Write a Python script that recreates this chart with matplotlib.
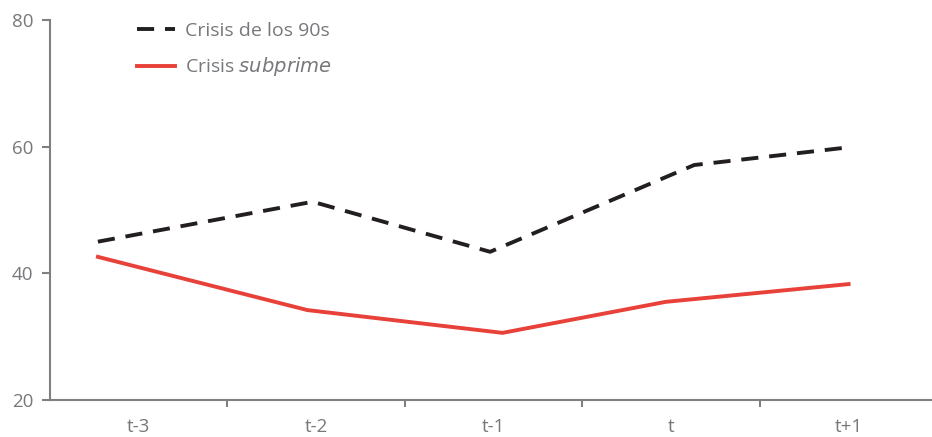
import matplotlib
matplotlib.use("Agg")
from matplotlib import pyplot as plt
from matplotlib.lines import Line2D

categories = ["t-3", "t-2", "t-1", "t", "t+1"]

# x positions (in category units)
x_90s = [-0.23, 0.98, 1.98, 3.13, 3.97]
crisis_90s = [45.0, 51.3, 43.4, 57.1, 59.8]

x_subprime = [-0.23, 0.95, 2.05, 2.97, 4.0]
crisis_subprime = [42.6, 34.2, 30.6, 35.5, 38.3]

black = "#231f20"
red = "#e8413a"
grey = "#808080"
text_grey = "#77787b"

plt.rcParams['font.family'] = ['Open Sans', 'DejaVu Sans']

fig = plt.figure(figsize=(9.32, 4.37), dpi=100)
ax = fig.add_axes([50 / 932, 1 - 400 / 437, 1 - 50 / 932, 380 / 437])

ax.plot(x_90s, crisis_90s, color=black, lw=2.8, dashes=(4.4, 2.8))
ax.plot(x_subprime, crisis_subprime, color=red, lw=2.8, solid_joinstyle="miter")

ax.set_ylim(20, 80)
ax.set_yticks([20, 40, 60, 80])
ax.set_xlim(-0.5, 4.47)
ax.set_xticks([0.5, 1.5, 2.5, 3.5])
ax.set_xticklabels([])
ax.set_xticks(range(len(categories)), minor=True)
ax.set_xticklabels(categories, minor=True)
ax.tick_params(axis="x", which="major", length=5, width=1.5, color=grey, direction="out")
ax.tick_params(axis="x", which="minor", length=0, pad=13, labelsize=13.5, labelcolor=text_grey)
ax.tick_params(axis="y", length=6, width=1.5, color=grey, labelsize=13.5, labelcolor=text_grey, pad=6)

for side in ["top", "right"]:
    ax.spines[side].set_visible(False)
for side in ["left", "bottom"]:
    ax.spines[side].set_color(grey)
    ax.spines[side].set_linewidth(1.5)

handles = [
    Line2D([], [], color=black, lw=2.8, dashes=(4.4, 2.8)),
    Line2D([], [], color=red, lw=2.8),
]
labels = ["Crisis de los 90s", "Crisis $\\it{subprime}$"]
leg = ax.legend(handles, labels, loc="upper left", bbox_to_anchor=(0.099, 0.995),
                frameon=False, fontsize=14, handlelength=1.95, handletextpad=0.5,
                labelspacing=0.8, borderpad=0, borderaxespad=0)
for t in leg.get_texts():
    t.set_color(text_grey)

fig.savefig("out.png", dpi=100)
